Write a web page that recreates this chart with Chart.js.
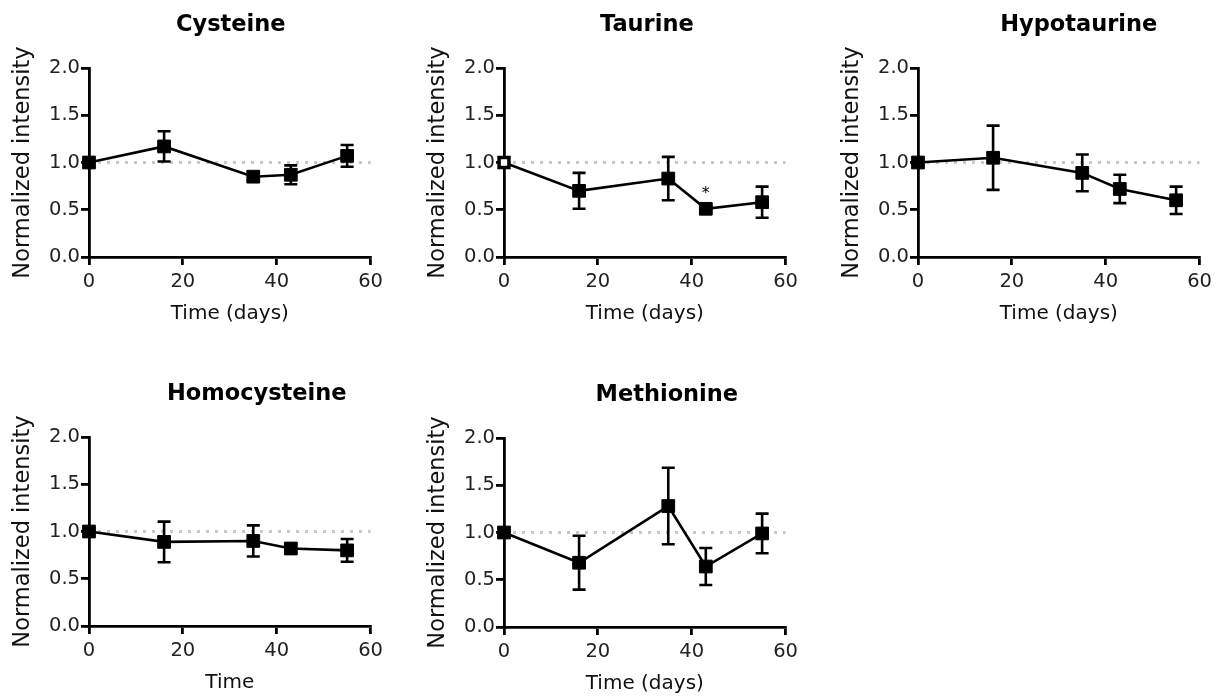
<!DOCTYPE html>
<html>
<head>
<meta charset="utf-8">
<script src="https://cdn.jsdelivr.net/npm/chart.js@4.4.1/dist/chart.umd.min.js"></script>
<style>
  html, body { margin: 0; padding: 0; background: #fff; }
  body { width: 1217px; height: 700px; overflow: hidden; position: relative; }
  canvas { position: absolute; }
</style>
</head>
<body>
<canvas id="c0" width="388" height="340"></canvas>
<canvas id="c1" width="388" height="340"></canvas>
<canvas id="c2" width="388" height="340"></canvas>
<canvas id="c3" width="388" height="340"></canvas>
<canvas id="c4" width="388" height="340"></canvas>
<script>
// ---- data ----
const days = [0, 16, 35, 43, 55];

const cysteineMean = [1.00, 1.17, 0.85, 0.87, 1.07];
const cysteineErr  = [0.00, 0.16, 0.04, 0.10, 0.115];

const taurineMean = [1.00, 0.70, 0.83, 0.51, 0.58];
const taurineErr  = [0.00, 0.19, 0.23, 0.03, 0.165];
const taurineSig  = ['', '', '', '*', ''];

const hypotaurineMean = [1.00, 1.05, 0.89, 0.72, 0.60];
const hypotaurineErr  = [0.00, 0.34, 0.195, 0.15, 0.145];

const homocysteineMean = [1.00, 0.89, 0.90, 0.82, 0.80];
const homocysteineErr  = [0.00, 0.215, 0.165, 0.05, 0.12];

const methionineMean = [1.00, 0.68, 1.28, 0.64, 0.99];
const methionineErr  = [0.00, 0.285, 0.405, 0.196, 0.21];

const baselineLevel = 1.0;
const xRange = [0, 60];
const xStep = 20;
const yRange = [0, 2];
const yStep = 0.5;

const titles = ['Cysteine', 'Taurine', 'Hypotaurine', 'Homocysteine', 'Methionine'];
const xTitles = ['Time (days)', 'Time (days)', 'Time (days)', 'Time', 'Time (days)'];
const yTitle = 'Normalized intensity';

// ---- layout (canvas placement, title nudges) ----
const layoutCfg = [
  { left: 0,   top: 0,   titleDx: 1 },
  { left: 415, top: 0,   titleDx: 2 },
  { left: 829, top: 0,   titleDx: 20 },
  { left: 0,   top: 369, titleDx: 27 },
  { left: 415, top: 370, titleDx: 22 }
];

const FAMILY = '"DejaVu Sans", "Liberation Sans", Arial, sans-serif';

const panelTitlePlugin = {
  id: 'panelTitle',
  afterDraw(chart, args, opts) {
    const ca = chart.chartArea, ctx = chart.ctx;
    ctx.save();
    ctx.font = 'bold 22.5px ' + FAMILY;
    ctx.fillStyle = '#000';
    ctx.textAlign = 'center';
    ctx.textBaseline = 'middle';
    ctx.fillText(opts.text, (ca.left + ca.right) / 2 + opts.dx, ca.top - 43);
    ctx.restore();
  }
};

const errorBarPlugin = {
  id: 'errorBars',
  beforeDatasetDraw(chart, args) {
    const ds = chart.data.datasets[args.index];
    if (!ds.errors) return;
    const ys = chart.scales.y, ctx = chart.ctx;
    ctx.save();
    ctx.strokeStyle = '#000';
    ctx.lineWidth = 2.6;
    ds.data.forEach((pt, i) => {
      const e = ds.errors[i];
      if (!e) return;
      const px = args.meta.data[i].x;
      const top = ys.getPixelForValue(pt.y + e);
      const bot = ys.getPixelForValue(pt.y - e);
      ctx.beginPath();
      ctx.moveTo(px, top); ctx.lineTo(px, bot);
      ctx.moveTo(px - 6.5, top); ctx.lineTo(px + 6.5, top);
      ctx.moveTo(px - 6.5, bot); ctx.lineTo(px + 6.5, bot);
      ctx.stroke();
    });
    ctx.restore();
  },
  afterDatasetsDraw(chart) {
    const ctx = chart.ctx;
    chart.data.datasets.forEach((ds, di) => {
      if (!ds.marks) return;
      const meta = chart.getDatasetMeta(di);
      ctx.save();
      ctx.font = '16px ' + FAMILY;
      ctx.fillStyle = '#000';
      ctx.textAlign = 'center';
      ctx.textBaseline = 'alphabetic';
      ds.marks.forEach((m, i) => {
        if (!m) return;
        const el = meta.data[i];
        ctx.fillText(m, el.x, el.y - 11);
      });
      ctx.restore();
    });
  }
};

function makePanel(idx, mean, err, marks, hollowFirst) {
  const L = layoutCfg[idx];
  const cv = document.getElementById('c' + idx);
  cv.style.left = L.left + 'px';
  cv.style.top = L.top + 'px';

  const pts = days.map((d, i) => ({ x: d, y: mean[i] }));
  const bg = days.map((d, i) => (hollowFirst && i === 0) ? '#fff' : '#000');
  const bw = days.map((d, i) => (hollowFirst && i === 0) ? 3.5 : 1);
  const rad = days.map((d, i) => (hollowFirst && i === 0) ? 7 : 9);

  const datasets = [
    {
      data: pts,
      errors: err,
      marks: marks,
      borderColor: '#000',
      borderWidth: 2.6,
      pointStyle: 'rect',
      pointRadius: rad,
      pointBackgroundColor: bg,
      pointBorderColor: '#000',
      pointBorderWidth: bw,
      tension: 0,
      clip: false,
      order: 1
    },
    {
      data: [{ x: xRange[0], y: baselineLevel }, { x: xRange[1], y: baselineLevel }],
      borderColor: '#c8c8c8',
      borderWidth: 3,
      borderDash: [3, 6],
      pointRadius: 0,
      clip: false,
      order: 2
    }
  ];

  new Chart(cv, {
    type: 'line',
    data: { datasets },
    options: {
      responsive: false,
      animation: false,
      devicePixelRatio: 1,
      layout: { padding: { left: 0, right: 16, top: 68, bottom: 0 } },
      plugins: {
        legend: { display: false },
        tooltip: { enabled: false },
        title: { display: false },
        panelTitle: { text: titles[idx], dx: L.titleDx }
      },
      scales: {
        x: {
          type: 'linear',
          min: xRange[0], max: xRange[1],
          afterFit: s => { s.height = 83; },
          border: { display: true, color: '#000', width: 2.8 },
          grid: { display: true, drawOnChartArea: false, drawTicks: true, tickLength: 8, lineWidth: 2.8, color: '#000' },
          ticks: { stepSize: xStep, font: { family: FAMILY, size: 19.5 }, color: '#222', padding: 5, maxRotation: 0 },
          title: { display: true, text: xTitles[idx], font: { family: FAMILY, size: 20 }, color: '#111', padding: { top: 0, bottom: 14 } }
        },
        y: {
          type: 'linear',
          min: yRange[0], max: yRange[1],
          afterFit: s => { s.width = 89; },
          border: { display: true, color: '#000', width: 2.8 },
          grid: { display: true, drawOnChartArea: false, drawTicks: true, tickLength: 8, lineWidth: 2.8, color: '#000' },
          ticks: { stepSize: yStep, font: { family: FAMILY, size: 19.5 }, color: '#222', padding: 1,
                   callback: v => Number(v).toFixed(1) },
          title: { display: true, text: yTitle, font: { family: FAMILY, size: 22.5 }, color: '#111', padding: { top: 10, bottom: 0 } }
        }
      }
    },
    plugins: [panelTitlePlugin, errorBarPlugin]
  });
}

makePanel(0, cysteineMean, cysteineErr, null, false);
makePanel(1, taurineMean, taurineErr, taurineSig, true);
makePanel(2, hypotaurineMean, hypotaurineErr, null, false);
makePanel(3, homocysteineMean, homocysteineErr, null, false);
makePanel(4, methionineMean, methionineErr, null, false);
</script>
</body>
</html>
